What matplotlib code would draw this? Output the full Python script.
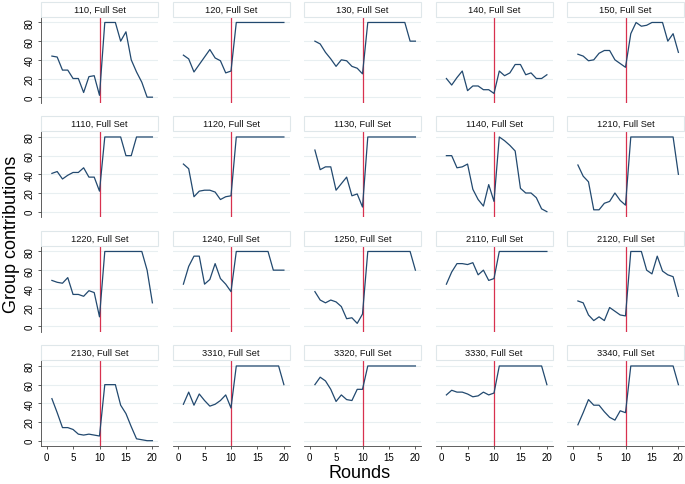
import matplotlib
matplotlib.use("Agg")
import matplotlib.pyplot as plt
from matplotlib.patches import Rectangle

plt.rcParams['font.family'] = ['Liberation Sans', 'DejaVu Sans']

rounds = list(range(1, 21))
treat_round = 10

groups = ["110", "120", "130", "140", "150",
          "1110", "1120", "1130", "1140", "1210",
          "1220", "1240", "1250", "2110", "2120",
          "2130", "3310", "3320", "3330", "3340"]

g110 = [44, 43, 29, 29, 20, 20, 5, 22, 23, 2, 80, 80, 80, 60, 70, 40, 27, 16, 0, 0]
g120 = [45, 41, 27, 35, 43, 51, 42, 39, 26, 28, 80, 80, 80, 80, 80, 80, 80, 80, 80, 80]
g130 = [60, 57, 48, 41, 33, 40, 39, 33, 31, 25, 80, 80, 80, 80, 80, 80, 80, 80, 60, 60]
g140 = [20, 13, 21, 28, 7, 12, 12, 8, 8, 4, 28, 23, 26, 35, 35, 24, 26, 20, 20, 24]
g150 = [46, 44, 39, 40, 47, 50, 50, 40, 36, 32, 68, 80, 76, 77, 80, 80, 80, 60, 68, 48]
g1110 = [41, 43, 35, 39, 42, 42, 47, 37, 37, 22, 80, 80, 80, 80, 60, 60, 80, 80, 80, 80]
g1120 = [51, 46, 16, 22, 23, 23, 21, 13, 16, 17, 80, 80, 80, 80, 80, 80, 80, 80, 80, 80]
g1130 = [66, 45, 48, 48, 23, 30, 37, 17, 19, 5, 80, 80, 80, 80, 80, 80, 80, 80, 80, 80]
g1140 = [60, 60, 47, 48, 51, 24, 13, 6, 29, 11, 80, 76, 71, 65, 25, 20, 20, 15, 3, 0]
g1210 = [50, 38, 32, 2, 2, 9, 11, 20, 12, 7, 80, 80, 80, 80, 80, 80, 80, 80, 80, 40]
g1220 = [49, 47, 46, 52, 34, 34, 32, 38, 36, 10, 80, 80, 80, 80, 80, 80, 80, 80, 60, 25]
g1240 = [45, 64, 75, 75, 45, 50, 67, 51, 45, 37, 80, 80, 80, 80, 80, 80, 80, 60, 60, 60]
g1250 = [37, 28, 25, 28, 26, 21, 8, 9, 3, 13, 80, 80, 80, 80, 80, 80, 80, 80, 80, 60]
g2110 = [45, 58, 67, 67, 66, 68, 55, 60, 49, 51, 80, 80, 80, 80, 80, 80, 80, 80, 80, 80]
g2120 = [27, 25, 12, 6, 10, 6, 20, 16, 12, 11, 80, 80, 80, 60, 56, 75, 59, 55, 53, 32]
g2130 = [45, 30, 14, 14, 12, 7, 6, 7, 6, 5, 60, 60, 60, 38, 29, 15, 2, 1, 0, 0]
g3310 = [39, 52, 38, 50, 43, 37, 39, 43, 49, 35, 80, 80, 80, 80, 80, 80, 80, 80, 80, 60]
g3320 = [60, 68, 64, 55, 42, 49, 44, 43, 55, 55, 80, 80, 80, 80, 80, 80, 80, 80, 80, 80]
g3330 = [49, 54, 52, 52, 50, 47, 48, 52, 49, 51, 80, 80, 80, 80, 80, 80, 80, 80, 80, 60]
g3340 = [17, 30, 44, 38, 38, 31, 25, 22, 32, 30, 80, 80, 80, 80, 80, 80, 80, 80, 80, 60]

series = [g110, g120, g130, g140, g150,
          g1110, g1120, g1130, g1140, g1210,
          g1220, g1240, g1250, g2110, g2120,
          g2130, g3310, g3320, g3330, g3340]

y_ticks = [0, 20, 40, 60, 80]
x_ticks = [0, 5, 10, 15, 20]

W, H = 685, 485
fig = plt.figure(figsize=(W / 100, H / 100), dpi=100)

col_left = [41, 172.5, 304, 435.5, 567]
row_top = [17.5, 132, 246.5, 361]
ax_w, ax_h, title_h = 117, 86, 15

line_col = "#22496f"
red_col = "#d8314f"
grid_col = "#e8eff1"

for i, (name, vals) in enumerate(zip(groups, series)):
    r, c = divmod(i, 5)
    left = col_left[c] / W
    bottom = 1 - (row_top[r] + ax_h) / H
    ax = fig.add_axes([left, bottom, ax_w / W, ax_h / H])

    ax.set_xlim(-1.06, 21.06)
    ax.set_ylim(-5.7, 86.4)
    for yv in y_ticks:
        ax.axhline(yv, color=grid_col, lw=0.8, zorder=0)
    ax.axvline(treat_round, color=red_col, lw=0.9, zorder=2)
    ax.plot(rounds, vals, color=line_col, lw=0.9, zorder=3)

    for s in ax.spines.values():
        s.set_visible(False)
    ax.set_yticks(y_ticks)
    ax.set_xticks(x_ticks)
    ax.tick_params(labelsize=7, length=2.5, width=0.6, color="#444444", pad=2)

    if c == 0:
        ax.spines['left'].set_visible(True)
        ax.spines['left'].set_color("#444444")
        ax.spines['left'].set_linewidth(0.6)
        for lab in ax.get_yticklabels():
            lab.set_rotation(90)
            lab.set_va("center")
    else:
        ax.tick_params(axis="y", left=False, labelleft=False)

    if r == 3:
        ax.spines['bottom'].set_visible(True)
        ax.spines['bottom'].set_color("#444444")
        ax.spines['bottom'].set_linewidth(0.6)
    else:
        ax.tick_params(axis="x", bottom=False, labelbottom=False)

    # title strip above each panel
    tb = 1 - row_top[r] / H
    rect = Rectangle((left, tb), ax_w / W, title_h / H, transform=fig.transFigure,
                     facecolor="white", edgecolor="#dfe7ea", lw=0.8)
    fig.add_artist(rect)
    fig.text(left + ax_w / W / 2, tb + title_h / H / 2, name + ", Full Set",
             ha="center", va="center", fontsize=6.7, color="#111111")

fig.text(12 / W, 1 - 234 / H, "Group contributions", rotation=90,
         ha="center", va="center", fontsize=13)
fig.text(360 / W, 1 - 474 / H, "Rounds", ha="center", va="center", fontsize=13)

fig.savefig("out.png", dpi=100, facecolor="white")
